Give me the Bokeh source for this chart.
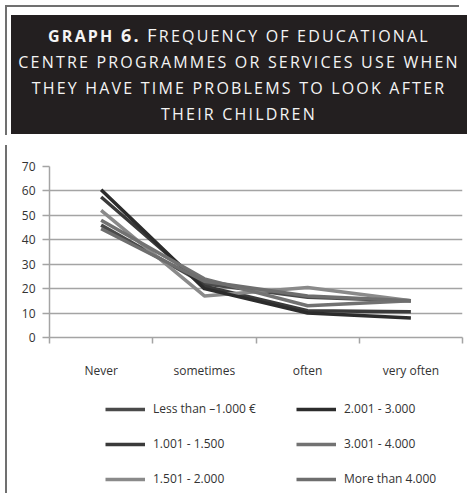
from bokeh.plotting import figure
from bokeh.models import Div, FixedTicker, Legend, LegendItem, Range1d
from bokeh.layouts import column, row
from bokeh.embed import file_html
from bokeh.resources import INLINE

# ---- data ----
categories = ["Never", "sometimes", "often", "very often"]
series_names = ["Less than \u20131.000 \u20ac", "1.001 - 1.500", "1.501 - 2.000",
                "2.001 - 3.000", "3.001 - 4.000", "More than 4.000"]
less_1000 = [46, 22, 16.5, 15]
from_1001_1500 = [57.5, 21, 11, 10.5]
from_1501_2000 = [52, 17, 20.5, 15]
from_2001_3000 = [60.5, 20, 10, 8]
from_3001_4000 = [48, 24, 13, 15]
more_4000 = [44.5, 23, 17, 15]
y_ticks = [0, 10, 20, 30, 40, 50, 60, 70]

series_values = [less_1000, from_1001_1500, from_1501_2000,
                 from_2001_3000, from_3001_4000, more_4000]
series_colors = ["#4a4a4a", "#3a3a3a", "#8a8a8a", "#2c2c2c", "#727272", "#6e6e6e"]

FONT = "Open Sans"

title_html = (
    '<div style="position:relative;width:454px;height:130px;box-sizing:border-box;'
    'border-top:2px solid #707070;border-left:2px solid #707070;">'
    '<div style="position:absolute;left:4px;top:8px;width:456px;height:119px;background:#231f20;'
    'color:#f4f4f4;font-family:\'Open Sans\';text-align:center;line-height:26px;padding-top:7px;'
    'box-sizing:border-box;white-space:nowrap;letter-spacing:2.2px;font-size:16px;">'
    '<b>GRAPH <span style="font-size:18px">6.</span></b> '
    '<span style="font-size:18.5px">F</span>REQUENCY OF EDUCATIONAL<br>'
    'CENTRE PROGRAMMES OR SERVICES USE WHEN<br>'
    'THEY HAVE TIME PROBLEMS TO LOOK AFTER<br>'
    'THEIR CHILDREN</div></div>'
)
title_div = Div(text=title_html, width=454, height=130)

p = figure(width=452, height=247, x_range=Range1d(0, len(categories)), y_range=Range1d(0, 70),
           output_backend="svg", toolbar_location=None,
           min_border_left=37, min_border_right=2, min_border_top=26, min_border_bottom=50)
p.outline_line_color = None
p.xgrid.visible = False
p.ygrid.ticker = FixedTicker(ticks=y_ticks)
p.ygrid.grid_line_color = "#a4a4a4"
p.ygrid.grid_line_width = 1.5

yax = p.yaxis[0]
yax.ticker = FixedTicker(ticks=y_ticks)
yax.axis_line_color = "#a4a4a4"
yax.axis_line_width = 1.5
yax.major_tick_line_color = "#a4a4a4"
yax.major_tick_line_width = 1.5
yax.major_tick_in = 0
yax.major_tick_out = 7
yax.minor_tick_line_color = None
yax.major_label_standoff = 7
yax.major_label_text_font = FONT
yax.major_label_text_font_size = "12px"
yax.major_label_text_color = "#333333"

centers = [i + 0.5 for i in range(len(categories))]
bounds = [float(i) for i in range(len(categories) + 1)]
xax = p.xaxis[0]
xax.ticker = FixedTicker(ticks=centers, minor_ticks=bounds)
xax.major_label_overrides = {c: lab for c, lab in zip(centers, categories)}
xax.axis_line_color = "#a4a4a4"
xax.axis_line_width = 1.5
xax.major_tick_line_color = None
xax.major_tick_in = 0
xax.major_tick_out = 0
xax.minor_tick_line_color = "#a4a4a4"
xax.minor_tick_line_width = 1.5
xax.minor_tick_in = 0
xax.minor_tick_out = 6
xax.major_label_standoff = 18
xax.major_label_text_font = FONT
xax.major_label_text_font_size = "12px"
xax.major_label_text_color = "#333333"

for vals, col in zip(series_values, series_colors):
    p.line(x=centers, y=vals, line_width=3.5, line_color=col, line_join="round")

# legend panel: a separate figure (so the legend is not clipped by the plot frame);
# its copies of the series lie outside its own (0..1) y range, only the legend shows.
lf = figure(width=452, height=101, x_range=Range1d(0, len(categories)), y_range=Range1d(0, 1),
            output_backend="svg", toolbar_location=None,
            x_axis_location=None, y_axis_location=None,
            min_border_left=0, min_border_right=0, min_border_top=0, min_border_bottom=0)
lf.grid.visible = False
lf.outline_line_color = None
items = []
for name, vals, col in zip(series_names, series_values, series_colors):
    r = lf.line(x=centers, y=vals, line_width=3.5, line_color=col)
    items.append(LegendItem(label=name, renderers=[r]))

legend = Legend(items=items, ncols=2, orientation="vertical", location=(56, 1),
                glyph_width=40, glyph_height=14, label_height=14, label_width=125,
                label_standoff=8, spacing=18, padding=0, margin=0, border_line_color=None,
                background_fill_alpha=0, label_text_font=FONT,
                label_text_font_size="12px", label_text_color="#333333")
lf.add_layout(legend, "center")

line_div = Div(text="", width=2, height=348, styles={"background-color": "#707070"})

layout = column(title_div, row(line_div, column(p, lf)))

with open("out.html", "w") as f:
    f.write(file_html(layout, INLINE))
